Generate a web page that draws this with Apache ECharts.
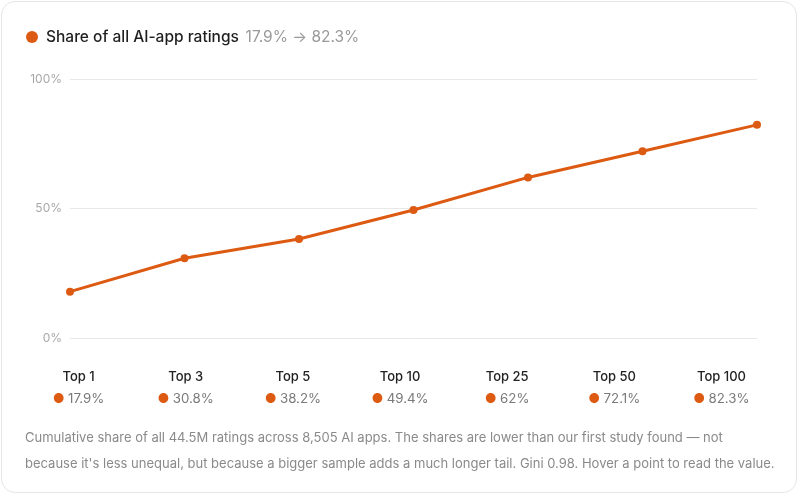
<!DOCTYPE html>
<html><head><meta charset="utf-8">
<script src="https://cdn.jsdelivr.net/npm/echarts@6/dist/echarts.min.js"></script>
<style>
html,body{margin:0;padding:0;background:#fff;}
#card{position:absolute;left:1px;top:1px;width:796px;height:492px;border:1px solid #e6e6e6;border-radius:14px;box-sizing:border-box;overflow:hidden;}
#c{position:absolute;left:-2px;top:-2px;width:800px;height:496px;}
</style></head>
<body><div id="card"><div id="c"></div></div>
<script>
const categories = ['Top 1','Top 3','Top 5','Top 10','Top 25','Top 50','Top 100'];
const shares = [17.9, 30.8, 38.2, 49.4, 62, 72.1, 82.3];
const yTicks = [0, 50, 100];
const seriesName = 'Share of all AI-app ratings';
const footer = 'Cumulative share of all 44.5M ratings across 8,505 AI apps. The shares are lower than our first study found — not\nbecause it\'s less unequal, but because a bigger sample adds a much longer tail. Gini 0.98. Hover a point to read the value.';
const orange = '#dd5a12';
const font = 'Inter, "Noto Sans", sans-serif';

const chart = echarts.init(document.getElementById('c'), null, {renderer:'canvas'});
chart.setOption({
  animation:false,
  textStyle:{fontFamily:font},
  legend:{
    left:26, top:29, padding:0, icon:'circle', itemWidth:12, itemHeight:12, itemGap:8,
    data:[seriesName],
    formatter: n => '{t|' + n + '}  {s|' + shares[0] + '% → ' + shares[shares.length-1] + '%}',
    textStyle:{rich:{
      t:{fontSize:15.5, fontWeight:500, color:'#1f1f1f', fontFamily:font, padding:[0,0,0,3]},
      s:{fontSize:15.5, color:'#9a9a9a', fontFamily:font}
    }}
  },
  title:{
    text: footer, left:25, top:425, padding:0,
    textStyle:{fontSize:13, fontWeight:400, color:'#8a8a8a', lineHeight:26, fontFamily:font}
  },
  grid:[
    {left:70, right:43, top:79, bottom:158},
    {left:25, right:25, top:366, height:40}
  ],
  xAxis:[
    {type:'category', gridIndex:0, data:categories, boundaryGap:false,
     axisLine:{show:false}, axisTick:{show:false}, axisLabel:{show:false}, splitLine:{show:false}},
    {type:'category', gridIndex:1, data:categories, boundaryGap:true, position:'top',
     axisLine:{show:false}, axisTick:{show:false}, splitLine:{show:false},
     axisLabel:{
       interval:0, margin:0, verticalAlign:'top',
       formatter:(v, i) => '{b|' + v + '}\n{d|●} {v|' + shares[i] + '%}',
       rich:{
         b:{fontSize:13, fontWeight:500, color:'#222', lineHeight:22, fontFamily:font},
         d:{fontSize:13, color:orange, lineHeight:22},
         v:{fontSize:13.3, color:'#7a7a7a', lineHeight:22, fontFamily:font}
       }
     }}
  ],
  yAxis:[
    {type:'value', gridIndex:0, min:0, max:100, interval:50,
     axisLine:{show:false}, axisTick:{show:false},
     axisLabel:{formatter:v => yTicks.includes(v) ? v + '%' : '', color:'#a8a8a8', fontSize:12, margin:8},
     splitLine:{lineStyle:{color:'#e8e8e8', width:1}}},
    {type:'value', gridIndex:1, show:false}
  ],
  series:[{
    name:seriesName, type:'line', xAxisIndex:0, yAxisIndex:0, data:shares,
    symbol:'circle', symbolSize:8, showAllSymbol:true,
    lineStyle:{color:orange, width:3}, itemStyle:{color:orange},
    emphasis:{disabled:true}
  }]
});
</script></body></html>
